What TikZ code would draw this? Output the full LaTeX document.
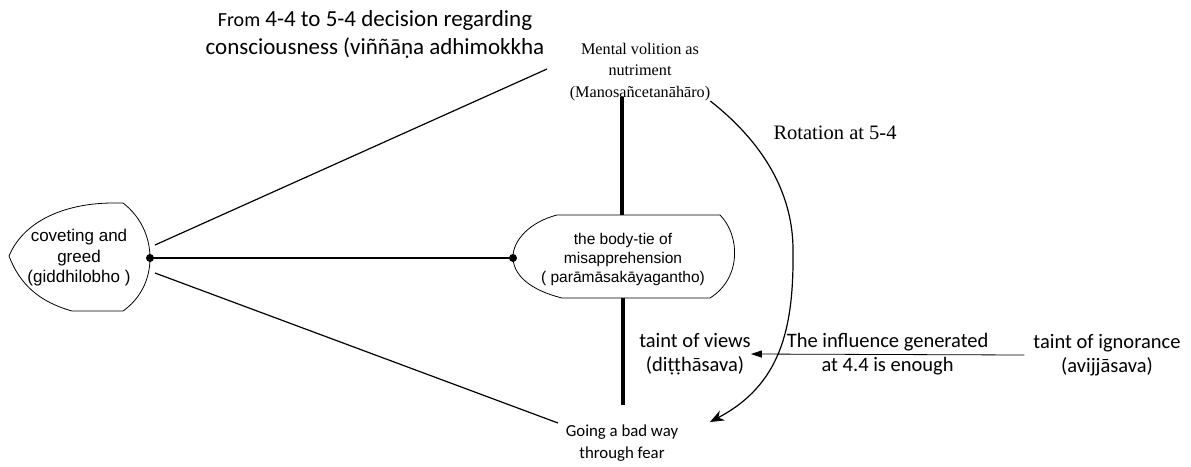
\documentclass[tikz,border=0pt]{standalone}
\usepackage{fontspec}
\setmainfont{Liberation Serif}
\newfontfamily\calib{Carlito}
\newfontfamily\arial{Liberation Sans}
\usetikzlibrary{arrows.meta}

\begin{document}
\begin{tikzpicture}[x=1pt,y=-1pt]
        \tikzstyle{every node}+=[inner sep=0pt, align=center]
        \tikzstyle{cal}=[font=\calib\fontsize{20.5}{24}\selectfont]
        \tikzstyle{ari}=[font=\arial\fontsize{15.5}{19}\selectfont]
        \tikzstyle{tms}=[font=\fontsize{16.2}{21.5}\selectfont]
        \tikzstyle{tie}=[black, line width=1.2pt]
        \useasboundingbox (0,0) rectangle (1191,466);
        % outlines
        \draw [black, line width=0.8pt] (9,256) .. controls (25,218) and (70,203) .. (113,203) -- (123,203) .. controls (140,216) and (150,236) .. (150,258) .. controls (150,280) and (140,299) .. (123,311) -- (72,311) .. controls (40,302) and (20,285) .. (9,256);
        \draw [black, line width=0.8pt] (557,215) -- (720,215) .. controls (740,235) and (742,278) .. (710,298) -- (562,298) .. controls (530,290) and (513,275) .. (513,257) .. controls (513,240) and (530,222) .. (557,215);
        % texts
        \node (top) at (375,34) [font=\calib\fontsize{23}{28}\selectfont] {{\fontsize{20}{28}\selectfont From} 4-4 to 5-4 decision regarding\\consciousness (viññāṇa adhimokkha};
        \node (mv) at (640,72) [tms] {Mental volition as\\nutriment\\(Manosañcetanāhāro)};
        \node (rot) at (835,133) [font=\fontsize{20.5}{24}\selectfont] {Rotation at 5-4};
        \node (cg) at (79,258) [font=\arial\fontsize{17}{20.5}\selectfont] {coveting and\\greed\\(giddhilobho )};
        \node (bt) at (623,259) [ari] {the body-tie of\\misapprehension\\( parāmāsakāyagantho)};
        \node (tv) at (695,354) [cal] {taint of views\\(diṭṭhāsava)};
        \node (ti) at (1107,355) [cal] {taint of ignorance\\(avijjāsava)};
        \node (gb) at (622,443) [font=\calib\fontsize{16.8}{21.5}\selectfont] {Going a bad way\\through fear};
        % attach points
        \coordinate (cgUp) at (155,245);
        \coordinate (cgDot) at (150,258);
        \coordinate (cgLow) at (155,273);
        \coordinate (btDot) at (513,258);
        \coordinate (mvIn) at (547,69);
        \coordinate (mvBot) at (622,97);
        \coordinate (btTop) at (622,215);
        \coordinate (btBot) at (623,298);
        \coordinate (gbTop) at (623,405);
        \coordinate (gbIn) at (558,423);
        \coordinate (rotEnd) at (710,422);
        % connectors
        \draw [tie] (cgUp) -- (mvIn);
        \draw [tie] (cgDot) -- (btDot);
        \draw [tie] (cgLow) -- (gbIn);
        \fill [black] (cgDot) circle (4);
        \fill [black] (btDot) circle (4);
        \draw [black, line width=3.5pt] (mvBot) -- (btTop);
        \draw [black, line width=3.5pt] (btBot) -- (gbTop);
        \draw [black, line width=1.2pt, -{Stealth[length=14pt,width=11pt]}] (mv.south east) .. controls (760,140) and (793,190) .. (793,250) .. controls (794,330) and (780,385) .. (rotEnd);
        \draw [black, line width=0.8pt, -{Triangle[length=11pt,width=7pt]}] ([xshift=-9pt]ti.west) -- node (inf) [cal] {The influence generated\\at 4.4 is enough} (tv.east);
\end{tikzpicture}
\end{document}
